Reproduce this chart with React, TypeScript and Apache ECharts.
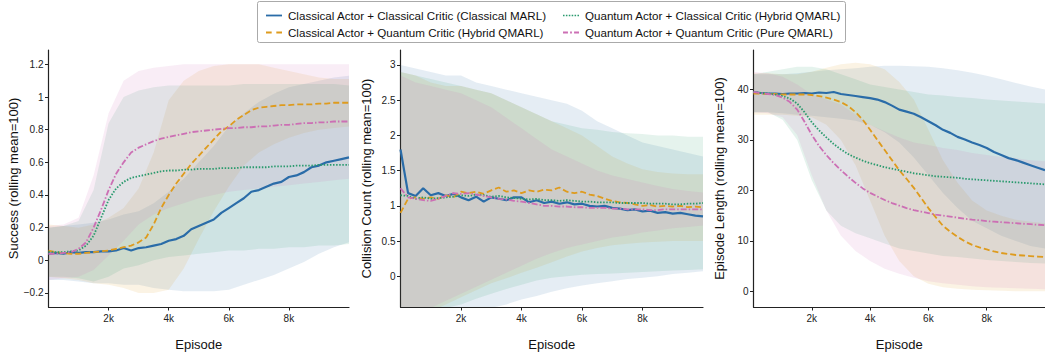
import React, { useEffect, useRef } from "react";
import * as echarts from "echarts";

// ---------- data ----------
const EP41 = [0, 250, 500, 750, 1000, 1250, 1500, 1750, 2000, 2250, 2500, 2750, 3000, 3250, 3500, 3750, 4000, 4250, 4500, 4750, 5000, 5250, 5500, 5750, 6000, 6250, 6500, 6750, 7000, 7250, 7500, 7750, 8000, 8250, 8500, 8750, 9000, 9250, 9500, 9750, 10000];
const EP21 = [0, 500, 1000, 1500, 2000, 2500, 3000, 3500, 4000, 4500, 5000, 5500, 6000, 6500, 7000, 7500, 8000, 8500, 9000, 9500, 10000];

const SERIES_NAMES = [
  "Classical Actor + Classical Critic (Classical MARL)",
  "Classical Actor + Quantum Critic (Hybrid QMARL)",
  "Quantum Actor + Classical Critic (Hybrid QMARL)",
  "Quantum Actor + Quantum Critic (Pure QMARL)",
];
const X_TICKS = [2000, 4000, 6000, 8000];

// Success
const SUC_Y_TICKS = [-0.2, 0, 0.2, 0.4, 0.6, 0.8, 1, 1.2];
const SUC_CC = [0.04, 0.045, 0.04, 0.05, 0.045, 0.05, 0.05, 0.055, 0.055, 0.06, 0.075, 0.06, 0.075, 0.08, 0.09, 0.1, 0.12, 0.13, 0.15, 0.19, 0.21, 0.23, 0.25, 0.29, 0.32, 0.35, 0.38, 0.42, 0.43, 0.45, 0.47, 0.48, 0.51, 0.52, 0.54, 0.57, 0.58, 0.6, 0.61, 0.62, 0.63];
const SUC_CQ = [0.06, 0.05, 0.045, 0.04, 0.04, 0.045, 0.05, 0.055, 0.06, 0.07, 0.08, 0.09, 0.11, 0.14, 0.22, 0.32, 0.4, 0.47, 0.53, 0.59, 0.64, 0.69, 0.74, 0.79, 0.82, 0.86, 0.89, 0.92, 0.935, 0.94, 0.945, 0.95, 0.95, 0.955, 0.955, 0.955, 0.96, 0.96, 0.965, 0.965, 0.965];
const SUC_QC = [0.05, 0.05, 0.05, 0.055, 0.06, 0.09, 0.15, 0.26, 0.37, 0.44, 0.48, 0.505, 0.515, 0.525, 0.535, 0.545, 0.55, 0.55, 0.555, 0.555, 0.56, 0.56, 0.56, 0.565, 0.565, 0.565, 0.57, 0.57, 0.57, 0.57, 0.575, 0.575, 0.575, 0.58, 0.58, 0.58, 0.585, 0.585, 0.585, 0.585, 0.585];
const SUC_QQ = [0.04, 0.04, 0.045, 0.05, 0.07, 0.11, 0.2, 0.31, 0.43, 0.53, 0.6, 0.66, 0.69, 0.71, 0.73, 0.745, 0.755, 0.765, 0.775, 0.785, 0.79, 0.795, 0.8, 0.805, 0.81, 0.81, 0.815, 0.815, 0.82, 0.82, 0.825, 0.83, 0.83, 0.835, 0.84, 0.84, 0.845, 0.845, 0.85, 0.85, 0.85];
const SUC_CC_LO = [-0.12, -0.12, -0.13, -0.14, -0.14, -0.15, -0.15, -0.17, -0.18, -0.19, -0.19, -0.19, -0.18, -0.15, -0.12, -0.09, -0.05, -0.01, 0.04, 0.08, 0.11];
const SUC_CC_HI = [0.2, 0.21, 0.22, 0.23, 0.25, 0.28, 0.3, 0.35, 0.42, 0.5, 0.6, 0.7, 0.82, 0.9, 0.97, 1.02, 1.06, 1.08, 1.1, 1.12, 1.13];
const SUC_CQ_LO = [-0.1, -0.11, -0.12, -0.14, -0.15, -0.17, -0.2, -0.2, -0.18, -0.05, 0.13, 0.3, 0.45, 0.58, 0.66, 0.71, 0.75, 0.78, 0.8, 0.81, 0.82];
const SUC_CQ_HI = [0.22, 0.21, 0.2, 0.22, 0.26, 0.32, 0.44, 0.66, 0.98, 1.1, 1.16, 1.19, 1.2, 1.2, 1.2, 1.18, 1.16, 1.14, 1.12, 1.11, 1.11];
const SUC_QC_LO = [-0.1, -0.1, -0.11, -0.13, -0.1, -0.05, -0.03, 0.0, 0.02, 0.03, 0.04, 0.05, 0.06, 0.06, 0.07, 0.07, 0.08, 0.08, 0.09, 0.09, 0.1];
const SUC_QC_HI = [0.2, 0.21, 0.24, 0.43, 0.84, 1.0, 1.04, 1.06, 1.07, 1.07, 1.07, 1.07, 1.07, 1.08, 1.08, 1.08, 1.08, 1.08, 1.08, 1.08, 1.07];
const SUC_QQ_LO = [-0.12, -0.11, -0.1, -0.06, 0.03, 0.12, 0.22, 0.28, 0.32, 0.35, 0.38, 0.4, 0.42, 0.43, 0.44, 0.45, 0.46, 0.47, 0.48, 0.49, 0.5];
const SUC_QQ_HI = [0.21, 0.22, 0.26, 0.52, 0.9, 1.1, 1.16, 1.18, 1.19, 1.2, 1.2, 1.2, 1.2, 1.2, 1.2, 1.2, 1.2, 1.2, 1.2, 1.2, 1.2];

// Collision count
const COL_Y_TICKS = [0, 0.5, 1, 1.5, 2, 2.5, 3];
const COL_CC = [1.8, 1.18, 1.14, 1.25, 1.15, 1.18, 1.14, 1.17, 1.12, 1.08, 1.13, 1.06, 1.12, 1.1, 1.08, 1.12, 1.12, 1.05, 1.08, 1.04, 1.06, 1.03, 1.05, 1.02, 1.03, 1.0, 0.99, 1.0, 0.97, 0.96, 0.94, 0.95, 0.92, 0.93, 0.9, 0.91, 0.89, 0.9, 0.88, 0.86, 0.85];
const COL_CQ = [0.9, 1.1, 1.12, 1.1, 1.12, 1.1, 1.15, 1.12, 1.2, 1.18, 1.2, 1.17, 1.22, 1.26, 1.2, 1.22, 1.18, 1.22, 1.2, 1.23, 1.22, 1.26, 1.2, 1.18, 1.2, 1.16, 1.14, 1.1, 1.07, 1.05, 1.04, 1.02, 1.0, 1.01, 0.99, 1.0, 0.99, 1.0, 0.98, 0.99, 0.98];
const COL_QC = [1.15, 1.14, 1.1, 1.12, 1.1, 1.11, 1.12, 1.13, 1.15, 1.14, 1.16, 1.15, 1.13, 1.14, 1.12, 1.11, 1.1, 1.09, 1.1, 1.08, 1.08, 1.07, 1.08, 1.07, 1.06, 1.06, 1.05, 1.05, 1.05, 1.04, 1.04, 1.04, 1.04, 1.03, 1.03, 1.03, 1.02, 1.02, 1.03, 1.03, 1.04];
const COL_QQ = [1.25, 1.12, 1.1, 1.08, 1.07, 1.1, 1.14, 1.18, 1.17, 1.18, 1.16, 1.14, 1.12, 1.1, 1.09, 1.07, 1.06, 1.04, 1.02, 1.0, 1.0, 0.99, 0.99, 0.98, 0.98, 0.97, 0.97, 0.97, 0.96, 0.96, 0.95, 0.95, 0.95, 0.94, 0.94, 0.95, 0.95, 0.95, 0.95, 0.95, 0.95];
const COL_CC_LO = [-0.75, -0.7, -0.65, -0.6, -0.55, -0.5, -0.45, -0.4, -0.33, -0.28, -0.22, -0.17, -0.13, -0.1, -0.07, -0.04, -0.02, 0.0, 0.03, 0.05, 0.07];
const COL_CC_HI = [3.0, 2.95, 2.9, 2.85, 2.85, 2.75, 2.7, 2.65, 2.6, 2.55, 2.5, 2.45, 2.35, 2.2, 2.1, 2.0, 1.9, 1.85, 1.8, 1.75, 1.7];
const COL_CQ_LO = [-0.6, -0.55, -0.5, -0.4, -0.3, -0.2, -0.1, -0.03, 0.05, 0.12, 0.2, 0.28, 0.35, 0.4, 0.44, 0.46, 0.48, 0.49, 0.5, 0.5, 0.5];
const COL_CQ_HI = [2.9, 2.85, 2.75, 2.7, 2.7, 2.65, 2.6, 2.5, 2.4, 2.3, 2.2, 2.1, 2.0, 1.85, 1.7, 1.6, 1.52, 1.48, 1.46, 1.45, 1.45];
const COL_QC_LO = [-0.6, -0.55, -0.5, -0.45, -0.4, -0.32, -0.25, -0.18, -0.12, -0.06, -0.02, 0.0, 0.02, 0.03, 0.04, 0.05, 0.06, 0.07, 0.08, 0.09, 0.1];
const COL_QC_HI = [2.9, 2.85, 2.8, 2.75, 2.7, 2.65, 2.6, 2.5, 2.4, 2.3, 2.2, 2.15, 2.1, 2.08, 2.05, 2.03, 2.02, 2.0, 2.0, 1.98, 1.98];
const COL_QQ_LO = [-0.55, -0.5, -0.45, -0.35, -0.25, -0.15, -0.05, 0.05, 0.15, 0.25, 0.33, 0.4, 0.45, 0.5, 0.55, 0.58, 0.62, 0.65, 0.68, 0.7, 0.72];
const COL_QQ_HI = [2.85, 2.75, 2.7, 2.65, 2.6, 2.5, 2.4, 2.25, 2.1, 1.95, 1.8, 1.7, 1.6, 1.5, 1.43, 1.38, 1.33, 1.28, 1.24, 1.21, 1.19];

// Episode length
const LEN_Y_TICKS = [0, 10, 20, 30, 40];
const LEN_CC = [39.5, 39.3, 39.2, 39.2, 39.1, 39.2, 39.2, 39.3, 39.2, 39.4, 39.3, 39.5, 39.1, 38.9, 38.7, 38.5, 38.3, 38.0, 37.5, 36.8, 36.0, 35.6, 35.2, 34.5, 33.7, 32.9, 32.0, 31.4, 30.6, 30.1, 29.5, 29.0, 28.4, 27.6, 27.0, 26.4, 26.0, 25.5, 25.0, 24.5, 24.0];
const LEN_CQ = [39.2, 39.2, 39.1, 39.1, 39.0, 39.0, 39.0, 39.0, 38.9, 38.7, 38.4, 38.0, 37.5, 36.7, 35.5, 34.0, 32.0, 30.0, 28.0, 26.0, 24.0, 22.3, 20.5, 18.5, 16.5, 14.7, 13.0, 11.8, 10.8, 9.9, 9.2, 8.7, 8.3, 7.9, 7.6, 7.4, 7.2, 7.1, 7.0, 6.9, 6.8];
const LEN_QC = [39.5, 39.3, 39.2, 39.0, 38.7, 38.2, 37.2, 35.5, 33.5, 31.9, 30.5, 29.2, 28.1, 27.2, 26.5, 25.9, 25.4, 25.0, 24.6, 24.3, 24.0, 23.7, 23.4, 23.2, 23.0, 22.8, 22.7, 22.6, 22.5, 22.3, 22.2, 22.1, 22.0, 21.9, 21.8, 21.7, 21.6, 21.5, 21.4, 21.3, 21.2];
const LEN_QQ = [39.5, 39.3, 39.1, 38.9, 38.4, 37.5, 36.0, 33.6, 31.0, 28.8, 27.0, 25.4, 24.0, 22.7, 21.5, 20.4, 19.5, 18.8, 18.1, 17.5, 17.0, 16.5, 16.1, 15.8, 15.5, 15.2, 15.0, 14.8, 14.6, 14.4, 14.2, 14.1, 13.9, 13.8, 13.7, 13.6, 13.5, 13.4, 13.3, 13.2, 13.1];
const LEN_CC_LO = [35.5, 35.5, 35.3, 35, 34.8, 34.5, 34.2, 33.8, 33, 31.5, 29.5, 26.5, 23, 19.5, 16.5, 14, 12.5, 11, 10, 9, 8.5];
const LEN_CC_HI = [43, 43, 43, 43.2, 43.5, 43.8, 44, 44.2, 44.5, 44.7, 44.7, 44.6, 44.5, 44.2, 43.8, 43.3, 42.7, 42, 41.3, 40.6, 40];
const LEN_CQ_LO = [35, 35, 35, 34.8, 34.5, 33, 30, 25, 18, 11, 6, 3, 1.5, 0.8, 0.5, 0.3, 0.2, 0.1, 0, 0, 0];
const LEN_CQ_HI = [43.2, 43.2, 43, 43, 43.5, 44.3, 45, 45.3, 45, 44, 41.5, 38, 32, 26, 21.5, 18, 16, 15, 14.2, 13.8, 13.5];
const LEN_QC_LO = [35.5, 35.5, 34, 30, 22, 16, 13, 11.5, 10.5, 9.5, 8.5, 8, 7.5, 7, 6.8, 6.5, 6.2, 6, 5.8, 5.6, 5.5];
const LEN_QC_HI = [43, 43.5, 44, 44.5, 44.5, 44, 43, 42, 41, 40.5, 40, 39.5, 39, 38.8, 38.5, 38.3, 38, 37.8, 37.6, 37.4, 37.2];
const LEN_QQ_LO = [35.5, 35.3, 34.5, 31, 23, 16, 11, 8, 6, 4.5, 3.5, 2.7, 2, 1.6, 1.3, 1, 0.8, 0.7, 0.6, 0.5, 0.4];
const LEN_QQ_HI = [43.5, 43.2, 42.5, 41, 39, 38, 37, 35, 33, 31.7, 30.5, 29.5, 29, 28.4, 28, 27.4, 27, 26.6, 26.4, 26, 25.8];

// ---------- styling ----------
const COLORS = ["#2a6ca8", "#de9b1e", "#2a9a6e", "#cc6fb4"];
const DASHES: any[] = ["solid", [6, 3], [1.5, 1.6], [6, 2, 1.5, 2]];
const LEGEND_ICONS = [
  "path://M0,0H16V1.8H0Z",
  "path://M0,0H5.5V1.8H0Z M10,0H15.5V1.8H10Z",
  "path://M0,0H1.6V1.6H0Z M3,0H4.6V1.6H3Z M6,0H7.6V1.6H6Z M9,0H10.6V1.6H9Z M12,0H13.6V1.6H12Z M15,0H16.6V1.6H15Z",
  "path://M0,0H5V1.8H0Z M7.2,0H9V1.8H7.2Z M11.2,0H16.2V1.8H11.2Z",
];
const FONT = "Liberation Sans, Arial, Helvetica, sans-serif";

const PANELS = [
  {
    yName: "Success (rolling mean=100)",
    yMin: -0.286, yMax: 1.288, yTicks: SUC_Y_TICKS,
    means: [SUC_CC, SUC_CQ, SUC_QC, SUC_QQ],
    lo: [SUC_CC_LO, SUC_CQ_LO, SUC_QC_LO, SUC_QQ_LO],
    hi: [SUC_CC_HI, SUC_CQ_HI, SUC_QC_HI, SUC_QQ_HI],
    left: 48.5, width: 300.5,
  },
  {
    yName: "Collision Count (rolling mean=100)",
    yMin: -0.437, yMax: 3.213, yTicks: COL_Y_TICKS,
    means: [COL_CC, COL_CQ, COL_QC, COL_QQ],
    lo: [COL_CC_LO, COL_CQ_LO, COL_QC_LO, COL_QQ_LO],
    hi: [COL_CC_HI, COL_CQ_HI, COL_QC_HI, COL_QQ_HI],
    left: 400.5, width: 302.5,
  },
  {
    yName: "Episode Length (rolling mean=100)",
    yMin: -3.1, yMax: 47.82, yTicks: LEN_Y_TICKS,
    means: [LEN_CC, LEN_CQ, LEN_QC, LEN_QQ],
    lo: [LEN_CC_LO, LEN_CQ_LO, LEN_QC_LO, LEN_QQ_LO],
    hi: [LEN_CC_HI, LEN_CQ_HI, LEN_QC_HI, LEN_QQ_HI],
    left: 753.5, width: 300,
  },
];

const fmtNum = (v: number) => {
  const s = String(Math.round(v * 1000) / 1000);
  return s.replace("-", "\u2212");
};

function buildOption() {
  const grid: any[] = [];
  const xAxis: any[] = [];
  const yAxis: any[] = [];
  const series: any[] = [];

  PANELS.forEach((p, pi) => {
    grid.push({ left: p.left, top: 50, width: p.width, height: 257, containLabel: false });
    xAxis.push({
      type: "value", gridIndex: pi, min: 0, max: 10000,
      name: "Episode", nameLocation: "middle", nameGap: 31,
      nameTextStyle: { fontSize: 13, color: "#111", fontFamily: FONT },
      axisLine: { show: true, onZero: false, lineStyle: { color: "#222", width: 1.2 } },
      axisTick: { show: true, length: 3.5, customValues: X_TICKS, lineStyle: { color: "#222", width: 1 } },
      axisLabel: {
        customValues: X_TICKS, fontSize: 10, color: "#222", fontFamily: FONT, margin: 6,
        formatter: (v: number) => v / 1000 + "k",
      },
      splitLine: { show: false },
    });
    yAxis.push({
      type: "value", gridIndex: pi, min: p.yMin, max: p.yMax,
      name: p.yName, nameLocation: "middle", nameGap: 28,
      nameTextStyle: { fontSize: 13, color: "#111", fontFamily: FONT },
      axisLine: { show: true, onZero: false, lineStyle: { color: "#222", width: 1.2 } },
      axisTick: { show: true, length: 3.5, customValues: p.yTicks, lineStyle: { color: "#222", width: 1 } },
      axisLabel: {
        customValues: p.yTicks, fontSize: 10, color: "#222", fontFamily: FONT, margin: 5,
        formatter: (v: number) => fmtNum(v),
      },
      splitLine: { show: false },
    });

    // bands (mean ± spread), drawn as one polygon each through the axis scales
    p.lo.forEach((lo, si) => {
      const hi = p.hi[si];
      const data = EP21.map((x, i) => [x, lo[i], hi[i]]);
      series.push({
        type: "custom",
        name: "band" + pi + "_" + si,
        xAxisIndex: pi, yAxisIndex: pi,
        clip: true, silent: true, z: 1,
        encode: { x: 0, y: [1, 2] },
        data,
        renderItem: (params: any, api: any) => {
          if (params.dataIndex !== 0) return null;
          const pts: number[][] = [];
          for (let i = 0; i < EP21.length; i++) pts.push(api.coord([EP21[i], lo[i]]));
          for (let i = EP21.length - 1; i >= 0; i--) pts.push(api.coord([EP21[i], hi[i]]));
          const cs = params.coordSys;
          return {
            type: "polygon",
            shape: { points: pts },
            style: { fill: COLORS[si], opacity: 0.12, stroke: null },
            clipPath: { type: "rect", shape: { x: cs.x, y: cs.y, width: cs.width, height: cs.height } },
          };
        },
      });
    });

    // mean lines
    p.means.forEach((m, si) => {
      series.push({
        type: "line",
        name: SERIES_NAMES[si],
        xAxisIndex: pi, yAxisIndex: pi,
        data: EP41.map((x, i) => [x, m[i]]),
        symbol: "none", showSymbol: false,
        smooth: false, z: 3 + si,
        lineStyle: { color: COLORS[si], width: si === 0 ? 2.2 : 1.8, type: DASHES[si] },
        itemStyle: { color: COLORS[si] },
      });
    });
  });

  const legendPos = [
    { left: 266, top: 9.5 },
    { left: 266, top: 26.5 },
    { left: 563, top: 9.5 },
    { left: 563, top: 26.5 },
  ];
  const legend = SERIES_NAMES.map((n, i) => ({
    data: [{ name: n, icon: LEGEND_ICONS[i] }],
    left: legendPos[i].left, top: legendPos[i].top,
    padding: 0, itemGap: 0, itemWidth: 16, itemHeight: 10,
    selectedMode: false,
    itemStyle: { color: COLORS[i] },
    textStyle: { fontSize: 11.6, color: "#111", fontFamily: FONT, padding: [0, 0, 0, 1] },
  }));

  return {
    animation: false,
    backgroundColor: "#ffffff",
    grid, xAxis, yAxis, series, legend,
    graphic: [
      {
        type: "rect", z: -1,
        shape: { x: 257.5, y: 1.5, width: 588, height: 41, r: 2 },
        style: { fill: "#ffffff", stroke: "#aaaaaa", lineWidth: 1 },
      },
    ],
  };
}

export default function App() {
  const ref = useRef<HTMLDivElement>(null);
  useEffect(() => {
    if (!ref.current) return;
    const chart = echarts.init(ref.current, undefined, { renderer: "svg" });
    chart.setOption(buildOption() as any);
    return () => chart.dispose();
  }, []);
  return (
    <div
      ref={ref}
      style={{ position: "fixed", left: 0, top: 0, width: 1045, height: 358, background: "#fff" }}
    />
  );
}
